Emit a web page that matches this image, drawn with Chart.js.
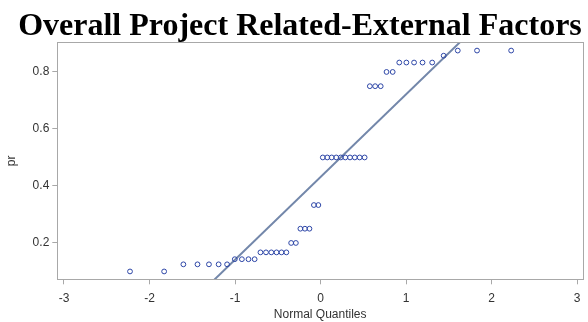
<!DOCTYPE html>
<html>
<head>
<meta charset="UTF-8">
<title>Overall Project Related-External Factors</title>
<script src="https://cdn.jsdelivr.net/npm/chart.js@4/dist/chart.umd.min.js"></script>
<style>
    html, body { margin: 0; padding: 0; background: #fff; }
    #wrap { width: 588px; height: 322px; }
</style>
</head>
<body>
<div id="wrap"><canvas id="chart" width="588" height="322"></canvas></div>
<script>
    // normal quantiles (Blom) of the 48 observations, and the observed pr values
    const quantiles = [
        -2.228, -1.829, -1.604, -1.439, -1.305, -1.192, -1.093, -1.003, -0.920, -0.843,
        -0.771, -0.703, -0.638, -0.576, -0.515, -0.457, -0.400, -0.344, -0.289, -0.236,
        -0.183, -0.130, -0.078, -0.026, 0.026, 0.078, 0.130, 0.183, 0.236, 0.289,
        0.344, 0.400, 0.457, 0.515, 0.576, 0.638, 0.703, 0.771, 0.843, 0.920,
        1.003, 1.093, 1.192, 1.305, 1.439, 1.604, 1.829, 2.228
    ];
    const prValues = [
        0.100, 0.100, 0.125, 0.125, 0.125, 0.125, 0.125, 0.143, 0.143, 0.143,
        0.143, 0.167, 0.167, 0.167, 0.167, 0.167, 0.167, 0.200, 0.200, 0.250,
        0.250, 0.250, 0.333, 0.333, 0.500, 0.500, 0.500, 0.500, 0.500, 0.500,
        0.500, 0.500, 0.500, 0.500, 0.750, 0.750, 0.750, 0.800, 0.800, 0.833,
        0.833, 0.833, 0.833, 0.833, 0.857, 0.875, 0.875, 0.875
    ];
    // reference line end points (mean 0.43, sd 0.29)
    const lineX = [-3.2, 3.2];
    const lineY = [-0.497, 1.360];
    const xTicks = [-3, -2, -1, 0, 1, 2, 3];
    const yTicks = [0.2, 0.4, 0.6, 0.8];
    const chartTitle = 'Overall Project Related-External Factors';

    const points = quantiles.map((q, i) => ({ x: q, y: prValues[i] }));
    const refLine = lineX.map((x, i) => ({ x: x, y: lineY[i] }));

    // box around the plot area + the big serif title
    const frame = {
        id: 'frame',
        afterDraw(chart) {
            const a = chart.chartArea;
            const ctx = chart.ctx;
            ctx.save();
            ctx.strokeStyle = '#a8a8a8';
            ctx.lineWidth = 1;
            ctx.strokeRect(Math.round(a.left) + 0.5, Math.round(a.top) + 0.5,
                Math.round(a.right - a.left), Math.round(a.bottom - a.top));
            ctx.fillStyle = '#000';
            ctx.font = 'bold 32px "Liberation Serif"';
            ctx.textAlign = 'center';
            ctx.textBaseline = 'alphabetic';
            ctx.fillText(chartTitle, 300, 35);
            ctx.restore();
        }
    };

    const tickFont = { family: 'Liberation Sans', size: 12 };

    new Chart(document.getElementById('chart'), {
        type: 'scatter',
        data: {
            datasets: [{
                type: 'line',
                data: refLine,
                borderColor: '#7387aa',
                borderWidth: 2,
                pointRadius: 0,
                fill: false,
                order: 2
            }, {
                data: points,
                pointStyle: 'circle',
                pointRadius: 2.4,
                pointBorderWidth: 1,
                pointBorderColor: '#2c45a6',
                pointBackgroundColor: 'rgba(255,255,255,0)',
                order: 1
            }]
        },
        plugins: [frame],
        options: {
            responsive: false,
            animation: false,
            layout: { padding: { left: 0, right: 3, top: 42.3, bottom: 0 } },
            plugins: {
                legend: { display: false },
                tooltip: { enabled: false },
                title: { display: false }
            },
            scales: {
                x: {
                    type: 'linear',
                    min: -3.078,
                    max: 3.068,
                    afterBuildTicks: s => { s.ticks = xTicks.map(v => ({ value: v })); },
                    afterFit: s => { s.height = 42.7; },
                    grid: { drawOnChartArea: false, color: '#a8a8a8', tickLength: 5 },
                    border: { color: '#a8a8a8' },
                    ticks: { color: '#333', font: tickFont, padding: 7 },
                    title: {
                        display: true, text: 'Normal Quantiles', color: '#333',
                        font: tickFont, padding: { top: 0, bottom: 0 }
                    }
                },
                y: {
                    min: 0.0725,
                    max: 0.904,
                    afterBuildTicks: s => { s.ticks = yTicks.map(v => ({ value: v })); },
                    afterFit: s => { s.width = 57.3; },
                    grid: { drawOnChartArea: false, color: '#a8a8a8', tickLength: 5 },
                    border: { color: '#a8a8a8' },
                    ticks: { color: '#333', font: tickFont, padding: 3, callback: v => v.toFixed(1) },
                    title: {
                        display: true, text: 'pr', color: '#333',
                        font: tickFont, padding: { bottom: 6 }
                    }
                }
            }
        }
    });
</script>
</body>
</html>
